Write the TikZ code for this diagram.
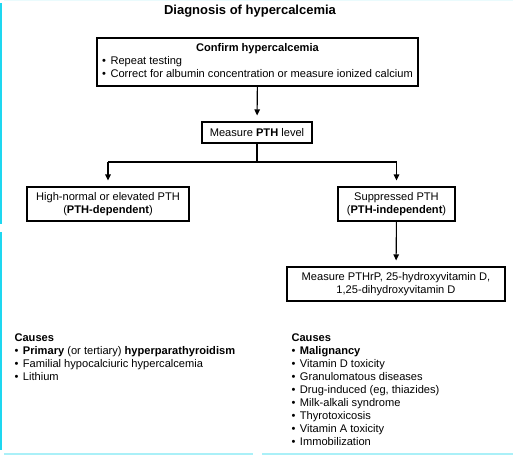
\documentclass[tikz,border=0pt]{standalone}
\usepackage{fontspec}
\setmainfont{Liberation Sans}
\usepackage{tikz}
\usetikzlibrary{arrows.meta}
\definecolor{edgecyan}{RGB}{30,215,240}
\definecolor{edgepale}{RGB}{170,240,248}
\newcommand{\bul}{•\hspace{4.5pt}}

\begin{document}
\begin{tikzpicture}[x=1pt, y=-1pt, font=\fontsize{11.1}{13}\selectfont,
    line width=1.1pt, >={Triangle[length=6pt,width=5.5pt]},
    box/.style={draw, align=center, inner sep=0pt}]
  \useasboundingbox (0,0) rectangle (513,455);
  % edge marks
  \draw[line width=2pt, edgecyan] (1,3) -- (1,224) (1,232) -- (1,450);
  \draw[line width=1.2pt, edgepale] (4,454) -- (253,454) (262,454) -- (513,454);
  \draw[line width=0.8pt, edgepale!25] (4,0.5) -- (513,0.5);

  \node[font=\fontsize{13}{15}\selectfont\bfseries] (title) at (250,11) {Diagnosis of hypercalcemia};
  \node[box, minimum width=321pt, minimum height=48pt] (c0) at (257.5,62)
    {\begin{tabular}{@{}l@{}}\multicolumn{1}{@{}c@{}}{\textbf{Confirm hypercalcemia}}\\
     \bul Repeat testing\\
     \bul Correct for albumin concentration or measure ionized calcium\end{tabular}};
  \node[box, minimum width=110pt, minimum height=21pt] (c1) at (257,132.5) {Measure \textbf{PTH} level};
  \node[box, minimum width=162pt, minimum height=34pt] (c2) at (108,204)
    {High-normal or elevated PTH\\(\textbf{PTH-dependent})};
  \node[box, minimum width=117pt, minimum height=34pt] (c3) at (396.5,204)
    {Suppressed PTH\\(\textbf{PTH-independent})};
  \node[box, minimum width=218pt, minimum height=34pt] (c4) at (396,284)
    {Measure PTHrP, 25-hydroxyvitamin D,\\1,25-dihydroxyvitamin D};
  \coordinate (j) at (257,162);
  \coordinate (jl) at (c2.north |- j);
  \coordinate (jr) at (c3.north |- j);

  \draw[->, shorten >=6pt] (c0) -- (c1);
  \draw (c1) -- (j);
  \draw[->, shorten >=6pt] (jl) -- (jr) (jl) -- (c2);
  \draw[->, shorten >=6pt] (jr) -- (c3);
  \draw[->, shorten >=6pt] (c3) -- (c4);

  \node[anchor=north west, inner sep=0pt, align=left] (k1) at (14,333)
    {\textbf{Causes}\\
     \bul \textbf{Primary} (or tertiary) \textbf{hyperparathyroidism}\\
     \bul Familial hypocalciuric hypercalcemia\\
     \bul Lithium};
  \node[anchor=north west, inner sep=0pt, align=left] (k2) at (291,333)
    {\textbf{Causes}\\
     \bul \textbf{Malignancy}\\
     \bul Vitamin D toxicity\\
     \bul Granulomatous diseases\\
     \bul Drug-induced (eg, thiazides)\\
     \bul Milk-alkali syndrome\\
     \bul Thyrotoxicosis\\
     \bul Vitamin A toxicity\\
     \bul Immobilization};
\end{tikzpicture}
\end{document}
